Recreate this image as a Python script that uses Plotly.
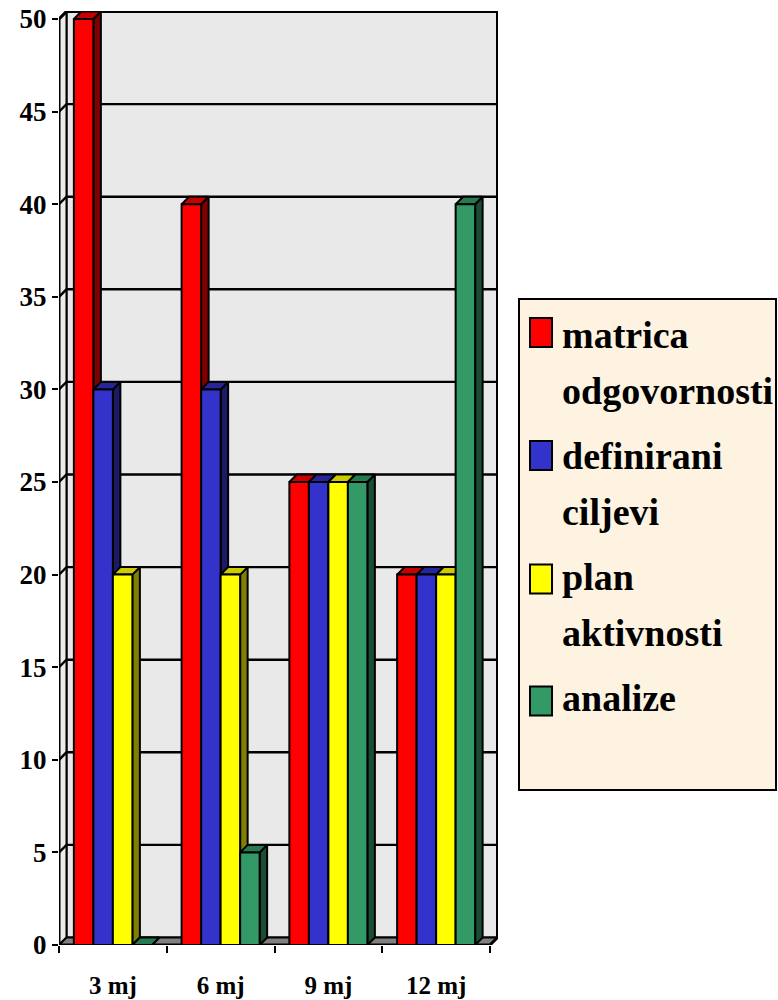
import plotly.graph_objects as go

categories = ["3 mj", "6 mj", "9 mj", "12 mj"]
matrica = [50, 40, 25, 20]
definirani = [30, 30, 25, 20]
plan = [20, 20, 25, 20]
analize = [0, 5, 25, 40]
y_ticks = [0, 5, 10, 15, 20, 25, 30, 35, 40, 45, 50]

series = [
    ("matrica<br>odgovornosti", matrica, "#FF0000", "#C80000", "#800000"),
    ("definirani<br>ciljevi", definirani, "#3333CC", "#26269A", "#1A1A66"),
    ("plan<br>aktivnosti", plan, "#FFFF00", "#CCCC00", "#808000"),
    ("analize", analize, "#339966", "#267A50", "#1A4D33"),
]

# pixel frame of the chart
W, H = 778, 1000
L, R, T, B = 59, 498, 11, 945
PX_X = 431 / 4          # px per category
PX_Y = 926 / 50         # px per unit
DX, DY = 7.5 / PX_X, 7.5 / PX_Y   # 3D depth in data units
X_MAX = (R - L) / PX_X
Y_MAX = (B - T) / PX_Y
N = len(series)
BARGAP = 0.276
BW = (1 - BARGAP) / N
SER = "Liberation Serif"

fig = go.Figure()


def poly(xs, ys, fill, lw=2):
    fig.add_trace(go.Scatter(x=xs, y=ys, mode="lines", fill="toself", fillcolor=fill,
                             line=dict(color="black", width=lw), showlegend=False,
                             hoverinfo="skip", cliponaxis=False))


top_val = max(y_ticks)
# back wall, left wall, floor
poly([DX, 4 + DX, 4 + DX, DX, DX], [DY, DY, top_val + DY, top_val + DY, DY], "#E9E9E9", 2)
poly([0, DX, DX, 0, 0], [0, DY, top_val + DY, top_val, 0], "#EBEBEB", 2)
poly([0, 4, 4 + DX, DX, 0], [0, 0, DY, DY, 0], "#808080", 2)

# gridlines on the walls
gx, gy = [], []
for v in y_ticks[1:]:
    gx += [0, DX, 4 + DX, None]
    gy += [v, v + DY, v + DY, None]
fig.add_trace(go.Scatter(x=gx, y=gy, mode="lines", line=dict(color="black", width=2.4),
                         showlegend=False, hoverinfo="skip", cliponaxis=False))
# heavier outline: top edge of the wall, floor front edge
fig.add_trace(go.Scatter(x=[0, DX, 4 + DX, 4 + DX, 4, 0, 0],
                         y=[top_val, top_val + DY, top_val + DY, DY, 0, 0, top_val],
                         mode="lines", line=dict(color="black", width=3),
                         showlegend=False, hoverinfo="skip", cliponaxis=False))

# side and top faces of the bars, computed from the series values
for s, (name, vals, front, top, side) in enumerate(series):
    for c, v in enumerate(vals):
        x0 = c + BARGAP / 2 + s * BW
        x1 = x0 + BW
        poly([x1, x1 + DX, x1 + DX, x1, x1], [0, DY, v + DY, v, 0], side)
        poly([x0, x1, x1 + DX, x0 + DX, x0], [v, v, v + DY, v + DY, v], top)

# front faces
for name, vals, front, top, side in series:
    fig.add_trace(go.Bar(x=[i + 0.5 for i in range(len(categories))], y=vals,
                         marker=dict(color=front, line=dict(color="black", width=2)),
                         xaxis="x2", yaxis="y2", showlegend=False, name=name.replace("<br>", " ")))

# legend entries (swatches are drawn larger as shapes beneath the legend)
for i, (name, vals, front, top, side) in enumerate(series):
    label = "<br>".join(f'<span style="font-size:38px">{p}</span>' for p in name.split("<br>"))
    fig.add_trace(go.Scatter(x=[None], y=[None], mode="markers", name=label, legendgroup=str(i),
                             marker=dict(symbol="square", size=10, color="rgba(0,0,0,0)", line=dict(width=0))))


def px_x(p):
    return (p - L) / (R - L)


def px_y(p):
    return (B - p) / (B - T)


shapes = [dict(type="rect", xref="paper", yref="paper", x0=px_x(519), x1=px_x(776), y0=px_y(790), y1=px_y(299),
               fillcolor="#FDF3E0", line=dict(color="black", width=2), layer="below")]
for yc, (_, _, front, _, _) in zip([332.5, 455.5, 579, 701], series):
    shapes.append(dict(type="rect", xref="paper", yref="paper", x0=px_x(530), x1=px_x(552),
                       y0=px_y(yc + 14.5), y1=px_y(yc - 14.5), fillcolor=front,
                       line=dict(color="black", width=2), layer="below"))

fig.update_layout(
    width=W, height=H, autosize=False,
    margin=dict(l=L, r=W - R, t=T, b=H - B, pad=0, autoexpand=False),
    paper_bgcolor="white", plot_bgcolor="rgba(0,0,0,0)",
    barmode="group", bargap=BARGAP, bargroupgap=0,
    font=dict(family=SER, color="black"),
    shapes=shapes,
    xaxis=dict(range=[0, X_MAX], tickmode="array", tickvals=[i + 0.5 for i in range(4)], ticktext=categories,
               ticks="", ticklen=0, showgrid=False, zeroline=False, showline=False, ticklabelstandoff=23,
               tickfont=dict(size=25, family=SER, weight=700),
               minor=dict(tickmode="array", tickvals=list(range(5)), ticks="outside", ticklen=7, tickwidth=2,
                          tickcolor="black", showgrid=False)),
    yaxis=dict(range=[0, Y_MAX], tickmode="array", tickvals=y_ticks, ticks="outside", ticklen=6, tickwidth=2,
               tickcolor="black", showgrid=False, zeroline=False, showline=False,
               tickfont=dict(size=27, family=SER, weight=700)),
    xaxis2=dict(range=[0, X_MAX], overlaying="x", visible=False),
    yaxis2=dict(range=[0, Y_MAX], overlaying="y", visible=False),
    legend=dict(xref="container", yref="container", x=522 / W, y=1 - 297 / H, xanchor="left", yanchor="top",
                bgcolor="rgba(0,0,0,0)", borderwidth=0, font=dict(size=43, family=SER, weight=700, color="black"),
                tracegroupgap=6, itemwidth=30, traceorder="grouped"),
)

fig.write_html("out.html", config=dict(displayModeBar=False),
               post_script="document.body.style.margin='0';document.body.style.overflow='hidden';")
